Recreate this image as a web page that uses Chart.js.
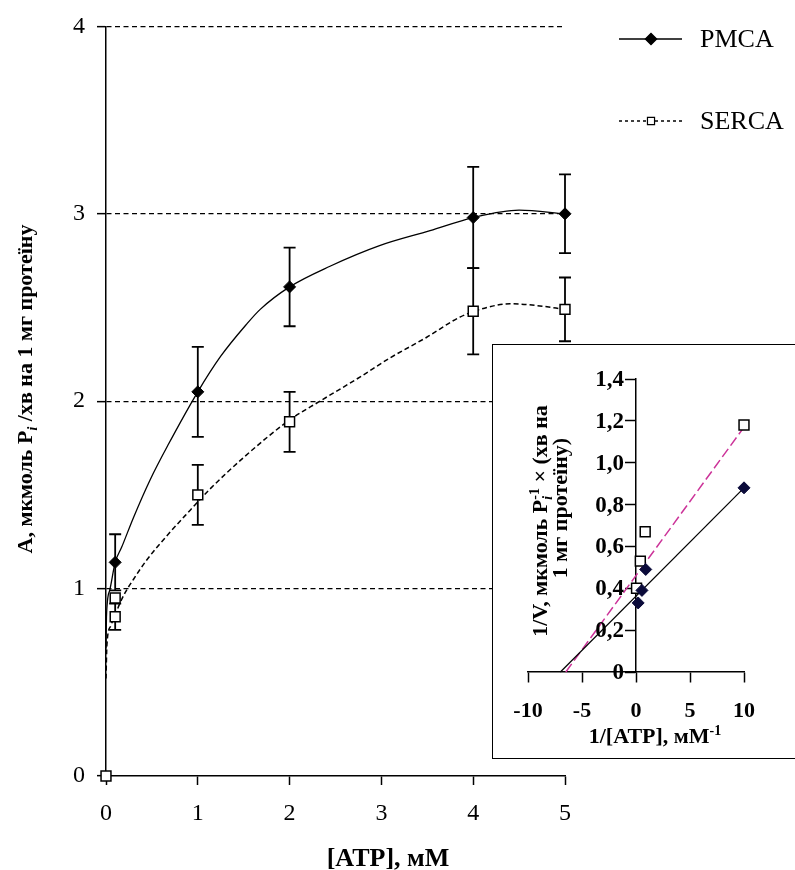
<!DOCTYPE html>
<html>
<head>
<meta charset="utf-8">
<script src="https://cdn.jsdelivr.net/npm/chart.js@4.4.1/dist/chart.umd.min.js"></script>
<style>
  html, body { margin: 0; padding: 0; background: #fff; }
  #wrap { position: relative; width: 795px; height: 870px; overflow: hidden; background: #fff; }
  #main { position: absolute; left: 0; top: 0; }
  #insetBox { position: absolute; left: 492px; top: 344px; width: 302px; height: 413px; border: 1px solid #000; background: #fff; }
  #inset { display: block; }
</style>
</head>
<body>
<div id="wrap">
  <canvas id="main" width="795" height="870"></canvas>
  <div id="insetBox"><canvas id="inset" width="302" height="413"></canvas></div>
</div>
<script>
// ---- main plot: activity vs [ATP] ----
const mainXTicks = [0, 1, 2, 3, 4, 5];
const mainYTicks = [0, 1, 2, 3, 4];

const pmcaX = [0.1, 1, 2, 4, 5];
const pmcaY = [1.14, 2.05, 2.61, 2.98, 3.00];
const pmcaErr = [0.15, 0.24, 0.21, 0.27, 0.21];

const sercaX = [0, 0.1, 0.1, 1, 2, 4, 5];
const sercaY = [0, 0.95, 0.85, 1.50, 1.89, 2.48, 2.49];
const sercaErr = [0, 0, 0.07, 0.16, 0.16, 0.23, 0.17];

// smoothed curves
const pmcaCurveX = [0, 0.005, 0.04, 0.1, 0.17, 0.3, 0.48, 0.68, 1, 1.25, 1.53, 1.68, 2, 2.44, 2.98, 3.53, 4, 4.5, 5];
const pmcaCurveY = [0.68, 0.85, 0.99, 1.14, 1.22, 1.38, 1.58, 1.77, 2.05, 2.24, 2.41, 2.49, 2.61, 2.72, 2.83, 2.91, 2.98, 3.02, 3.0];
const sercaCurveX = [0, 0.01, 0.05, 0.1, 0.15, 0.21, 0.3, 0.44, 0.66, 0.92, 1.13, 1.5, 2, 2.33, 2.77, 3.09, 3.49, 3.86, 4.15, 4.4, 4.7, 5];
const sercaCurveY = [0.52, 0.7, 0.8, 0.86, 0.92, 0.98, 1.05, 1.15, 1.28, 1.42, 1.53, 1.70, 1.9, 2.0, 2.13, 2.23, 2.34, 2.45, 2.5, 2.52, 2.51, 2.49];

const legendLabels = ['PMCA', 'SERCA'];

// ---- inset: double reciprocal plot ----
const insetXTicks = [-10, -5, 0, 5, 10];
const insetYTicks = [0, 0.2, 0.4, 0.6, 0.8, 1.0, 1.2, 1.4];
const insetYLabels = ['0', '0,2', '0,4', '0,6', '0,8', '1,0', '1,2', '1,4'];

const invPmcaX = [10, 0.9, 0.55, 0.2];
const invPmcaY = [0.88, 0.49, 0.39, 0.33];
const invSercaX = [10, 0.85, 0.4, 0.05];
const invSercaY = [1.18, 0.67, 0.53, 0.40];

const pmcaFitX = [-7, 10];
const pmcaFitY = [0, 0.88];
const sercaFitX = [-6.5, 10];
const sercaFitY = [0, 1.17];

const SERIF = '"Liberation Serif", "Times New Roman", serif';

const pts = (xs, ys) => xs.map((v, i) => ({ x: v, y: ys[i] }));

function partFont(p, size, weight) {
  const s = (p.sub || p.sup) ? Math.round(size * 0.62) : size;
  return (p.italic ? 'italic ' : '') + weight + ' ' + s + 'px ' + SERIF;
}

// text with sub/superscripts, centred on (x, y)
function drawRich(ctx, parts, x, y, size, weight, angle) {
  ctx.save();
  ctx.translate(x, y);
  ctx.rotate(angle || 0);
  ctx.fillStyle = '#000';
  ctx.textAlign = 'left';
  ctx.textBaseline = 'alphabetic';
  let total = 0, pend = 0;
  for (const p of parts) {
    ctx.font = partFont(p, size, weight);
    const w = ctx.measureText(p.t).width;
    if (p.hold) pend = Math.max(pend, w);
    else { total += Math.max(w, pend); pend = 0; }
  }
  let cx = -total / 2;
  pend = 0;
  const base = size * 0.33;
  for (const p of parts) {
    ctx.font = partFont(p, size, weight);
    const w = ctx.measureText(p.t).width;
    const dy = p.sub ? size * 0.22 : p.sup ? -size * 0.38 : 0;
    ctx.fillText(p.t, cx, base + dy);
    if (p.hold) pend = Math.max(pend, w);
    else { cx += Math.max(w, pend); pend = 0; }
  }
  ctx.restore();
}

const mainYTitle = [{ t: 'A, мкмоль P' }, { t: 'i', sub: true, italic: true }, { t: ' /хв на 1 мг протеїну' }];
const mainXTitle = [{ t: '[ATP], мМ' }];
const insetYTitle1 = [{ t: '1/V, мкмоль P' }, { t: 'i', sub: true, italic: true, hold: true }, { t: '-1', sup: true }, { t: ' × (хв на' }];
const insetYTitle2 = [{ t: '1 мг протеїну)' }];
const insetXTitle = [{ t: '1/[ATP], мМ' }, { t: '-1', sup: true }];

const mainDecor = {
  id: 'mainDecor',
  beforeDatasetsDraw(chart) {
    const { ctx, scales: { x, y } } = chart;
    ctx.save();
    ctx.strokeStyle = '#000';
    ctx.lineWidth = 1.8;
    const bars = (xs, ys, es) => xs.forEach((v, i) => {
      if (!es[i]) return;
      const px = x.getPixelForValue(v);
      const top = y.getPixelForValue(ys[i] + es[i]);
      const bot = y.getPixelForValue(ys[i] - es[i]);
      ctx.beginPath();
      ctx.moveTo(px, top); ctx.lineTo(px, bot);
      ctx.moveTo(px - 6, top); ctx.lineTo(px + 6, top);
      ctx.moveTo(px - 6, bot); ctx.lineTo(px + 6, bot);
      ctx.stroke();
    });
    bars(pmcaX, pmcaY, pmcaErr);
    bars(sercaX, sercaY, sercaErr);
    ctx.restore();
  },
  afterDraw(chart) {
    const ctx = chart.ctx;
    drawRich(ctx, mainYTitle, 25, 389, 22, 'bold', -Math.PI / 2);
    drawRich(ctx, mainXTitle, 388, 857, 26, 'bold', 0);

    // legend, top right
    const rows = [39, 121];
    ctx.save();
    ctx.strokeStyle = '#000';
    ctx.lineWidth = 1.5;
    ctx.beginPath(); ctx.moveTo(619, rows[0]); ctx.lineTo(682, rows[0]); ctx.stroke();
    ctx.setLineDash([3, 3]);
    ctx.beginPath(); ctx.moveTo(619, rows[1]); ctx.lineTo(682, rows[1]); ctx.stroke();
    ctx.setLineDash([]);
    ctx.fillStyle = '#000';
    Chart.helpers.drawPoint(ctx, { pointStyle: 'rectRot', radius: 5.5, borderWidth: 1 }, 651, rows[0]);
    ctx.fill();
    ctx.fillStyle = '#fff';
    ctx.lineWidth = 1.2;
    Chart.helpers.drawPoint(ctx, { pointStyle: 'rect', radius: 5, borderWidth: 1.2 }, 651, rows[1]);
    ctx.font = '26px ' + SERIF;
    ctx.fillStyle = '#000';
    ctx.textBaseline = 'middle';
    ctx.fillText(legendLabels[0], 700, rows[0] + 1);
    ctx.fillText(legendLabels[1], 700, rows[1] + 1);
    ctx.restore();
  }
};

new Chart(document.getElementById('main'), {
  type: 'scatter',
  data: {
    datasets: [
      {
        label: legendLabels[0], data: pts(pmcaX, pmcaY),
        pointStyle: 'rectRot', pointRadius: 6, backgroundColor: '#000', borderColor: '#000',
        pointBorderWidth: 1, order: 0, clip: false
      },
      {
        label: legendLabels[1], data: pts(sercaX, sercaY),
        pointStyle: 'rect', pointRadius: 7, backgroundColor: '#fff', borderColor: '#000',
        pointBorderWidth: 1.5, order: 0, clip: false
      },
      {
        type: 'line', label: 'PMCA curve', data: pts(pmcaCurveX, pmcaCurveY),
        borderColor: '#000', borderWidth: 1.3, pointRadius: 0, fill: false,
        cubicInterpolationMode: 'monotone', order: 1, clip: false
      },
      {
        type: 'line', label: 'SERCA curve', data: pts(sercaCurveX, sercaCurveY),
        borderColor: '#000', borderWidth: 1.5, borderDash: [5, 3], pointRadius: 0, fill: false,
        cubicInterpolationMode: 'monotone', order: 1, clip: false
      }
    ]
  },
  options: {
    responsive: false,
    animation: false,
    devicePixelRatio: 1,
    layout: { padding: { left: 0, right: 230, top: 20, bottom: 0 } },
    plugins: { legend: { display: false }, tooltip: { enabled: false } },
    scales: {
      x: {
        type: 'linear', position: 'bottom', min: 0, max: 5,
        afterBuildTicks: s => { s.ticks = mainXTicks.map(v => ({ value: v })); },
        afterFit: s => { s.height = 94; },
        ticks: { font: { family: SERIF, size: 24 }, color: '#000', padding: 14 },
        grid: { drawOnChartArea: false, tickLength: 9, tickColor: '#000', tickWidth: 1.5 },
        border: { color: '#000', width: 1.5 }
      },
      y: {
        type: 'linear', position: 'left', min: 0, max: 4,
        afterBuildTicks: s => { s.ticks = mainYTicks.map(v => ({ value: v })); },
        afterFit: s => { s.width = 106; },
        ticks: { font: { family: SERIF, size: 24 }, color: '#000', padding: 12 },
        grid: {
          color: c => (c.tick && c.tick.value === 0) ? 'rgba(0,0,0,0)' : '#000',
          lineWidth: 1.3, tickLength: 9, tickColor: '#000', tickWidth: 1.5
        },
        border: { color: '#000', width: 1.5, dash: [5, 3.5] }
      }
    }
  },
  plugins: [mainDecor]
});

const insetDecor = {
  id: 'insetDecor',
  afterDraw(chart) {
    const ctx = chart.ctx;
    const { x, y } = chart.scales;
    // y tick labels sit left of the tick marks on the crossing axis
    ctx.save();
    ctx.font = 'bold 23px ' + SERIF;
    ctx.fillStyle = '#000';
    ctx.textAlign = 'right';
    ctx.textBaseline = 'middle';
    const ax = x.getPixelForValue(0);
    insetYTicks.forEach((v, i) => ctx.fillText(insetYLabels[i], ax - 12, y.getPixelForValue(v) + 1));
    ctx.restore();
    drawRich(ctx, insetYTitle1, 47, 176, 22, 'bold', -Math.PI / 2);
    drawRich(ctx, insetYTitle2, 67, 163, 22, 'bold', -Math.PI / 2);
    drawRich(ctx, insetXTitle, 162, 391, 22, 'bold', 0);
  }
};

new Chart(document.getElementById('inset'), {
  type: 'scatter',
  data: {
    datasets: [
      {
        label: 'PMCA', data: pts(invPmcaX, invPmcaY),
        pointStyle: 'rectRot', pointRadius: 6, backgroundColor: '#0b0b3a', borderColor: '#0b0b3a',
        pointBorderWidth: 1, order: 0, clip: false
      },
      {
        label: 'SERCA', data: pts(invSercaX, invSercaY),
        pointStyle: 'rect', pointRadius: 7, backgroundColor: '#fff', borderColor: '#000',
        pointBorderWidth: 1.5, order: 0, clip: false
      },
      {
        type: 'line', label: 'PMCA fit', data: pts(pmcaFitX, pmcaFitY),
        borderColor: '#000', borderWidth: 1.2, pointRadius: 0, fill: false, order: 1, clip: false
      },
      {
        type: 'line', label: 'SERCA fit', data: pts(sercaFitX, sercaFitY),
        borderColor: '#cc3399', borderWidth: 1.5, borderDash: [10, 4], pointRadius: 0, fill: false,
        order: 1, clip: false
      }
    ]
  },
  options: {
    responsive: false,
    animation: false,
    devicePixelRatio: 1,
    layout: { padding: { left: 35, right: 51, top: 34, bottom: 86 } },
    plugins: { legend: { display: false }, tooltip: { enabled: false } },
    scales: {
      x: {
        type: 'linear', position: { y: 0 }, min: -10, max: 10,
        afterBuildTicks: s => { s.ticks = insetXTicks.map(v => ({ value: v })); },
        ticks: { font: { family: SERIF, size: 22, weight: 'bold' }, color: '#000', padding: 16 },
        grid: { drawOnChartArea: false, tickLength: 10, tickColor: '#000', tickWidth: 1.5 },
        border: { color: '#000', width: 1.5 }
      },
      y: {
        type: 'linear', position: { x: 0 }, min: 0, max: 1.4,
        afterBuildTicks: s => { s.ticks = insetYTicks.map(v => ({ value: v })); },
        ticks: { display: false },
        grid: { drawOnChartArea: false, tickLength: 10, tickColor: '#000', tickWidth: 1.5 },
        border: { color: '#000', width: 1.5 }
      }
    }
  },
  plugins: [insetDecor]
});
</script>
</body>
</html>
